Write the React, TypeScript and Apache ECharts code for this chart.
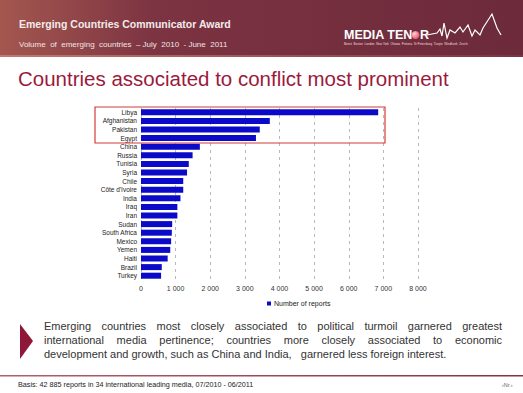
import React, { useEffect, useRef } from "react";
import * as echarts from "echarts";

const countries = [
  "Libya", "Afghanistan", "Pakistan", "Egypt", "China", "Russia", "Tunisia", "Syria",
  "Chile", "Côte d'Ivoire", "India", "Iraq", "Iran", "Sudan", "South Africa", "Mexico",
  "Yemen", "Haiti", "Brazil", "Turkey",
];
const reports = [
  6850, 3720, 3430, 3320, 1700, 1490, 1380, 1330,
  1220, 1220, 1140, 1050, 1050, 900, 890, 870,
  845, 770, 600, 580,
];
const xTicks = [0, 1000, 2000, 3000, 4000, 5000, 6000, 7000, 8000];
const seriesName = "Number of reports";

const headerTitle = "Emerging Countries Communicator Award";
const headerSub = "Volume  of  emerging  countries  – July  2010  - June  2011";
const slideTitle = "Countries associated to conflict most prominent";
const bodyLines = [
  "Emerging countries most closely associated to political turmoil garnered greatest",
  "international media pertinence; countries more closely associated to economic",
  "development and growth, such as China and India,   garnered less foreign interest.",
];
const footerText = "Basis: 42 885 reports in 34 international leading media, 07/2010 - 06/2011";
const cities = "Beirut  Boston  London  New York  Ottawa  Pretoria  St Petersburg  Tianjin  Windhoek  Zurich";

const FONT = "'Liberation Sans', Arial, sans-serif";

function measure(text: string, font: string): number {
  const c = document.createElement("canvas").getContext("2d");
  if (!c) return text.length * 5.5;
  c.font = font;
  return c.measureText(text).width;
}

function justifiedLine(text: string, x0: number, width: number, y: number, size: number, justify: boolean) {
  const font = `${size}px 'Liberation Sans'`;
  if (!justify) {
    return [{
      type: "text", x: x0, y,
      style: { text, font: `${size}px ${FONT}`, fill: "#333333", textVerticalAlign: "middle" },
    }];
  }
  const words = text.split(" ");
  const widths = words.map((w) => measure(w, font));
  const total = widths.reduce((a, b) => a + b, 0);
  const gap = (width - total) / (words.length - 1);
  let x = x0;
  return words.map((w, i) => {
    const el = {
      type: "text", x, y,
      style: { text: w, font: `${size}px ${FONT}`, fill: "#333333", textVerticalAlign: "middle" },
    };
    x += widths[i] + gap;
    return el;
  });
}

const wavePts: number[][] = [
  [427, 35], [437, 33], [440, 29], [442, 36], [444, 23], [447, 38], [450, 30], [455, 33],
  [460, 27], [463, 32], [468, 25], [472, 36], [475, 30], [480, 35], [483, 28], [492, 14],
  [497, 28], [501, 35],
];

export default function App() {
  const ref = useRef<HTMLDivElement>(null);
  useEffect(() => {
    if (!ref.current) return;
    const chart = echarts.init(ref.current, null, { renderer: "svg" });

    const body: any[] = [];
    bodyLines.forEach((l, i) => {
      body.push(...justifiedLine(l, 44, 458, 326 + i * 14, 11, i < 2));
    });

    chart.setOption({
      animation: false,
      backgroundColor: "#ffffff",
      grid: { left: 141, right: 105, top: 108, height: 172, containLabel: false },
      xAxis: {
        type: "value",
        min: 0,
        max: 8000,
        interval: 1000,
        axisLine: { show: false },
        axisTick: { show: false },
        splitLine: { show: true, lineStyle: { type: [3, 4], color: "#b8b8b8", width: 1 } },
        axisLabel: {
          fontSize: 7, color: "#333", fontFamily: FONT, margin: 5,
          formatter: (v: number) => (xTicks.includes(v) ? (v >= 1000 ? `${Math.floor(v / 1000)} 000` : `${v}`) : ""),
        },
      },
      yAxis: {
        type: "category",
        data: countries,
        inverse: true,
        axisLine: { show: false },
        axisTick: { show: false },
        axisLabel: { interval: 0, fontSize: 6.5, color: "#222", fontFamily: FONT, margin: 4 },
      },
      legend: {
        data: [seriesName],
        left: 262,
        top: 295,
        itemWidth: 4,
        itemHeight: 4,
        itemGap: 4,
        icon: "rect",
        textStyle: { fontSize: 7, color: "#222", fontFamily: FONT, padding: [0, 0, 0, -2] },
      },
      series: [
        {
          name: seriesName,
          type: "bar",
          data: reports,
          barWidth: 6,
          itemStyle: { color: "#0a0ac8" },
        },
      ],
      graphic: [
        {
          type: "rect",
          shape: { x: 0, y: 0, width: 523, height: 57 },
          style: {
            fill: new echarts.graphic.LinearGradient(0, 0, 1, 0, [
              { offset: 0, color: "#a4574f" },
              { offset: 0.3, color: "#7c3342" },
              { offset: 1, color: "#6c2a3b" },
            ]),
          },
          silent: true,
        },
        {
          type: "rect",
          shape: { x: 0, y: 55, width: 523, height: 2 },
          style: {
            fill: new echarts.graphic.LinearGradient(0, 0, 1, 0, [
              { offset: 0, color: "#c07a70" },
              { offset: 1, color: "#7a3545" },
            ]),
          },
        },
        {
          type: "text", x: 19, y: 24,
          style: { text: headerTitle, font: `bold 10.5px ${FONT}`, fill: "#f4eaea", textVerticalAlign: "middle" },
        },
        {
          type: "text", x: 19, y: 44,
          style: { text: headerSub, font: `8px ${FONT}`, fill: "#f0e4e4", textVerticalAlign: "middle" },
        },
        {
          type: "text", x: 344, y: 35,
          style: { text: "MEDIA TEN", font: `bold 12.5px ${FONT}`, fill: "#ffffff", textVerticalAlign: "middle" },
        },
        {
          type: "circle", shape: { cx: 415.5, cy: 35, r: 4 },
          style: {
            fill: new echarts.graphic.RadialGradient(0.35, 0.35, 0.7, [
              { offset: 0, color: "#ffd0d8" },
              { offset: 1, color: "#e8506a" },
            ]),
          },
        },
        {
          type: "text", x: 420, y: 35,
          style: { text: "R", font: `bold 12.5px ${FONT}`, fill: "#ffffff", textVerticalAlign: "middle" },
        },
        {
          type: "polyline",
          shape: { points: wavePts },
          style: { stroke: "#ffffff", lineWidth: 1.2, fill: null },
        },
        {
          type: "text", x: 344, y: 44,
          style: { text: cities, font: `3px ${FONT}`, fill: "#f0dede", textVerticalAlign: "middle" },
        },
        {
          type: "text", x: 18, y: 78,
          style: { text: slideTitle, font: `20.5px ${FONT}`, fill: "#9b1a3c", textVerticalAlign: "middle" },
        },
        {
          type: "rect",
          shape: { x: 95, y: 107, width: 290, height: 36 },
          style: { fill: null, stroke: "#d23a3a", lineWidth: 1.2 },
          z: 100,
        },
        {
          type: "polygon",
          shape: { points: [[20, 324], [33, 341], [20, 359]] },
          style: { fill: "#8e1838" },
        },
        ...body,
        {
          type: "rect",
          shape: { x: 0, y: 375, width: 523, height: 1.5 },
          style: {
            fill: new echarts.graphic.LinearGradient(0, 0, 1, 0, [
              { offset: 0, color: "#b06070" },
              { offset: 1, color: "#8a3045" },
            ]),
          },
        },
        {
          type: "text", x: 18, y: 384,
          style: { text: footerText, font: `7.2px ${FONT}`, fill: "#222", textVerticalAlign: "middle" },
        },
        {
          type: "text", x: 502, y: 385,
          style: { text: "‹Nr.›", font: `5.5px ${FONT}`, fill: "#666", textVerticalAlign: "middle" },
        },
      ],
    });
    return () => chart.dispose();
  }, []);
  return <div ref={ref} style={{ width: 523, height: 393, position: "absolute", left: 0, top: 0 }} />;
}
